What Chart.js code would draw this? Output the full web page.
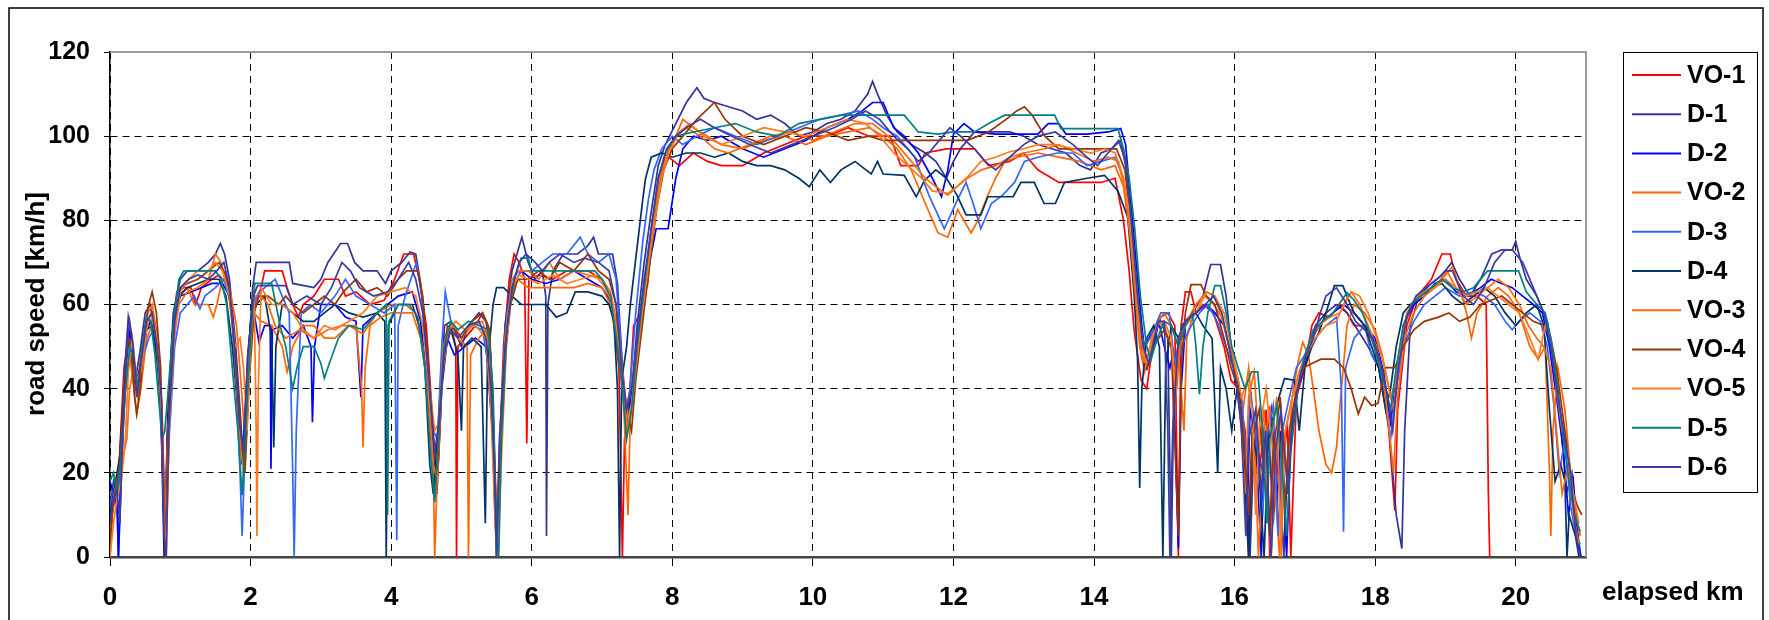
<!DOCTYPE html>
<html>
<head>
<meta charset="utf-8">
<script src="https://cdn.jsdelivr.net/npm/chart.js@4.4.1/dist/chart.umd.min.js"></script>
<style>
  html, body { margin: 0; padding: 0; background: #fff; }
  #wrap { width: 1769px; height: 620px; }
</style>
</head>
<body>
<div id="wrap"><canvas id="speedChart" width="1769" height="620"></canvas></div>
<script>
// tick labels
const xTicks = [0, 2, 4, 6, 8, 10, 12, 14, 16, 18, 20];
const yTicks = [0, 20, 40, 60, 80, 100, 120];

const seriesNames = ["VO-1", "D-1", "D-2", "VO-2", "D-3", "D-4", "VO-3", "VO-4", "VO-5", "D-5", "D-6"];
const seriesColors = ["#FF0000", "#333399", "#0000FF", "#FF6600", "#3366FF", "#003366",
                      "#FF6A10", "#993300", "#FF7A1C", "#008080", "#3C3CA2"];

// [elapsed km, road speed km/h]
const vo1 = [[0,0],[0.03,10],[0.08,15],[0.13,22],[0.2,45],[0.26,52],[0.3,50],[0.36,40],[0.42,45],[0.5,55],[0.56,56],[0.62,55],[0.7,45],[0.75,20],[0.78,2],[0.82,30],[0.88,52],[0.95,63],[1.05,64],[1.15,64],[1.22,60],[1.3,64],[1.45,66],[1.55,67],[1.65,65],[1.72,60],[1.8,45],[1.86,30],[1.92,22],[1.98,45],[2.05,60],[2.15,64],[2.2,68],[2.45,68],[2.52,64],[2.6,60],[2.68,57],[2.75,60],[2.9,62],[3.05,66],[3.25,66],[3.35,62],[3.5,63],[3.7,60],[3.9,61],[4.05,66],[4.18,72],[4.32,72],[4.4,66],[4.5,55],[4.58,35],[4.64,16],[4.68,25],[4.75,52],[4.85,55],[4.92,50],[4.93,0],[4.95,50],[5.05,52],[5.2,55],[5.3,58],[5.38,55],[5.45,35],[5.5,5],[5.53,20],[5.6,50],[5.68,66],[5.75,72],[5.82,70],[5.9,66],[5.93,27],[5.96,66],[6.1,67],[6.3,66],[6.5,68],[6.8,68],[7.0,66],[7.1,62],[7.17,55],[7.24,45],[7.29,0],[7.32,28],[7.38,35],[7.45,55],[7.55,58],[7.65,65],[7.75,82],[7.85,92],[7.95,95],[8.1,93],[8.3,96],[8.5,94],[8.7,93],[9.0,93],[9.3,96],[9.6,98],[9.9,100],[10.2,100],[10.5,102],[10.8,100],[11.1,100],[11.25,93],[11.5,93],[11.6,96],[11.9,97],[12.3,97],[12.5,93],[12.8,94],[13.0,96],[13.2,92],[13.5,89],[13.8,89],[14.1,89],[14.3,90],[14.42,80],[14.5,68],[14.57,54],[14.67,42],[14.75,40],[14.85,52],[14.95,57],[15.05,58],[15.15,55],[15.2,0],[15.24,55],[15.3,63],[15.38,63],[15.45,58],[15.55,60],[15.7,58],[15.85,50],[15.95,42],[16.05,40],[16.15,30],[16.2,0],[16.25,25],[16.35,20],[16.45,35],[16.5,0],[16.55,30],[16.65,15],[16.75,32],[16.8,0],[16.88,38],[17.0,45],[17.1,55],[17.2,58],[17.35,57],[17.5,60],[17.6,58],[17.7,55],[17.85,55],[18.0,50],[18.15,40],[18.28,11],[18.32,35],[18.45,55],[18.6,62],[18.8,66],[18.95,72],[19.07,72],[19.15,66],[19.3,62],[19.45,62],[19.58,60],[19.61,16],[19.63,0]];

const d1 = [[0,12],[0.05,18],[0.1,15],[0.12,0],[0.15,20],[0.2,42],[0.26,57],[0.3,53],[0.36,42],[0.42,48],[0.5,58],[0.57,60],[0.65,52],[0.72,40],[0.76,15],[0.79,0],[0.83,35],[0.9,58],[1.0,66],[1.1,68],[1.25,68],[1.4,70],[1.5,72],[1.57,74.5],[1.63,72],[1.7,66],[1.78,52],[1.85,35],[1.9,22],[1.96,45],[2.03,64],[2.08,70],[2.55,70],[2.6,65],[2.9,64],[3.0,66],[3.1,70],[3.28,74.5],[3.38,74.5],[3.48,70],[3.6,68],[3.8,68],[3.92,65],[4.0,68],[4.15,70],[4.27,72.5],[4.35,72],[4.42,65],[4.5,50],[4.58,30],[4.63,20],[4.7,40],[4.76,55],[4.85,56],[5.0,50],[5.1,55],[5.25,58],[5.35,56],[5.42,48],[5.48,10],[5.52,0],[5.56,30],[5.62,55],[5.72,68],[5.86,76],[5.95,70],[6.05,66],[6.15,68],[6.2,62],[6.21,5],[6.23,60],[6.3,68],[6.45,72],[6.65,72],[6.8,74],[6.88,76],[6.95,72],[7.15,72],[7.22,65],[7.28,48],[7.35,33],[7.42,38],[7.5,55],[7.6,70],[7.7,82],[7.8,93],[7.9,98],[8.05,103],[8.2,108],[8.35,111.5],[8.45,109],[8.6,108],[8.8,107],[9.0,106],[9.2,104],[9.4,105],[9.6,103],[9.8,100],[10.0,101],[10.2,103],[10.4,104],[10.6,106],[10.78,110],[10.85,113],[10.92,110],[11.05,105],[11.2,101],[11.4,98],[11.6,96],[11.75,94],[11.9,90],[12.0,94],[12.1,97],[12.3,101],[12.5,101],[12.8,101],[13.0,100],[13.2,98],[13.4,97],[13.6,96],[13.8,93],[13.95,92],[14.1,96],[14.25,97],[14.38,99],[14.46,92],[14.55,75],[14.62,60],[14.7,50],[14.78,52],[14.88,55],[14.95,56],[15.05,52],[15.1,0],[15.14,45],[15.25,55],[15.4,58],[15.55,62],[15.66,69.5],[15.8,69.5],[15.88,62],[15.96,48],[16.05,38],[16.15,25],[16.22,0],[16.28,30],[16.4,20],[16.48,32],[16.55,8],[16.62,28],[16.7,0],[16.76,25],[16.85,35],[16.95,45],[17.05,48],[17.15,55],[17.3,58],[17.45,60],[17.6,58],[17.75,54],[17.9,50],[18.05,45],[18.2,30],[18.3,10],[18.38,2],[18.42,30],[18.5,55],[18.62,62],[18.8,65],[18.95,67],[19.09,70],[19.2,66],[19.35,62],[19.5,66],[19.66,72],[19.8,73],[19.95,73],[20.0,75],[20.06,71],[20.15,66],[20.3,62],[20.45,56],[20.55,45],[20.65,30],[20.72,15],[20.8,20],[20.87,8],[20.92,0]];

const d2 = [[0,18],[0.05,15],[0.1,12],[0.12,0],[0.16,18],[0.22,44],[0.28,54],[0.33,48],[0.4,40],[0.46,48],[0.52,54],[0.58,56],[0.66,50],[0.72,38],[0.77,0],[0.82,32],[0.9,56],[1.0,62],[1.15,63],[1.3,64],[1.45,65],[1.6,65],[1.7,62],[1.78,50],[1.85,30],[1.9,25],[1.96,48],[2.03,60],[2.08,55],[2.12,51],[2.2,55],[2.28,55],[2.29,21],[2.31,54],[2.45,55],[2.6,52],[2.75,55],[2.86,50],[2.88,32],[2.91,50],[3.0,60],[3.2,60],[3.35,57],[3.5,56],[3.57,38],[3.6,55],[3.8,58],[3.95,60],[4.1,62],[4.3,63],[4.42,56],[4.52,40],[4.6,22],[4.65,15],[4.72,40],[4.8,52],[4.9,48],[5.05,50],[5.2,52],[5.35,50],[5.44,30],[5.5,0],[5.55,25],[5.62,52],[5.72,64],[5.85,68],[6.0,66],[6.2,65],[6.4,66],[6.6,68],[6.8,66],[7.0,64],[7.15,60],[7.25,50],[7.32,38],[7.4,36],[7.5,48],[7.6,62],[7.7,72],[7.77,78],[7.94,78],[8.05,90],[8.15,97],[8.3,100],[8.5,99],[8.7,100],[9.0,97],[9.3,95],[9.6,97],[9.9,99],[10.2,102],[10.5,104],[10.7,106],[10.85,108],[11.0,108],[11.15,102],[11.3,100],[11.5,96],[11.7,90],[11.83,85.6],[11.92,92],[12.0,100.5],[12.15,103],[12.3,101],[12.6,100.5],[12.9,100.5],[13.2,100.5],[13.35,103],[13.5,103],[13.6,100.5],[13.9,100.5],[14.2,101],[14.38,101.8],[14.45,98],[14.52,85],[14.6,70],[14.68,55],[14.75,45],[14.85,50],[14.92,56],[15.0,50],[15.08,45],[15.12,48],[15.2,2],[15.24,40],[15.3,55],[15.45,58],[15.6,60],[15.72,58],[15.85,55],[15.95,48],[16.05,42],[16.12,30],[16.18,10],[16.22,35],[16.3,28],[16.38,0],[16.42,25],[16.52,35],[16.6,12],[16.66,30],[16.74,0],[16.8,28],[16.9,40],[17.0,46],[17.1,52],[17.25,56],[17.4,58],[17.55,60],[17.7,58],[17.85,55],[18.0,52],[18.12,44],[18.22,32],[18.3,42],[18.4,55],[18.55,60],[18.7,62],[18.85,65],[19.0,66],[19.15,63],[19.3,62],[19.5,64],[19.65,66],[19.8,65],[19.95,64],[20.1,62],[20.25,60],[20.38,58],[20.48,50],[20.58,38],[20.68,25],[20.75,10],[20.82,18],[20.88,5],[20.93,0]];

const vo2 = [[0,2],[0.04,12],[0.1,18],[0.16,25],[0.22,40],[0.28,48],[0.34,40],[0.38,34],[0.44,40],[0.52,52],[0.6,55],[0.68,50],[0.74,35],[0.79,5],[0.83,30],[0.9,52],[0.98,62],[1.1,64],[1.2,60],[1.3,60],[1.4,60],[1.47,57],[1.52,60],[1.6,66],[1.7,64],[1.8,55],[1.87,40],[1.93,25],[1.99,48],[2.05,58],[2.15,56],[2.3,55],[2.45,50],[2.52,44],[2.6,50],[2.75,55],[2.9,55],[3.05,52],[3.2,52],[3.4,55],[3.6,53],[3.8,58],[4.0,60],[4.2,60],[4.35,58],[4.45,50],[4.55,35],[4.6,20],[4.62,0],[4.66,22],[4.74,48],[4.85,54],[4.95,52],[5.08,50],[5.1,0],[5.13,48],[5.25,52],[5.35,54],[5.42,45],[5.48,20],[5.52,0],[5.56,28],[5.62,50],[5.7,62],[5.8,66],[5.95,64],[6.1,64],[6.3,64],[6.6,64],[6.8,65],[7.0,64],[7.12,60],[7.22,52],[7.3,40],[7.37,10],[7.4,32],[7.48,45],[7.58,58],[7.68,72],[7.78,85],[7.88,93],[8.0,98],[8.15,104],[8.3,102],[8.5,100],[8.7,98],[9.0,97],[9.3,99],[9.6,100],[9.9,98],[10.2,100],[10.5,101],[10.8,102],[11.0,100],[11.2,97],[11.4,92],[11.6,84],[11.78,77],[11.92,76],[12.06,82.5],[12.15,80],[12.25,77],[12.35,80],[12.49,86],[12.6,90],[12.73,94],[12.9,95],[13.2,96],[13.5,95],[13.8,94],[14.1,92],[14.3,93],[14.42,88],[14.5,78],[14.58,62],[14.65,50],[14.72,44],[14.8,50],[14.9,56],[15.0,58],[15.1,55],[15.2,50],[15.28,30],[15.32,52],[15.45,60],[15.6,63],[15.72,62],[15.85,55],[15.95,48],[16.05,42],[16.12,35],[16.2,45],[16.28,30],[16.34,0],[16.4,22],[16.5,36],[16.58,15],[16.64,0],[16.7,28],[16.8,36],[16.9,46],[16.97,51],[17.05,48],[17.12,40],[17.2,30],[17.3,22],[17.38,20],[17.45,26],[17.52,40],[17.6,55],[17.7,60],[17.85,58],[18.0,54],[18.1,48],[18.2,40],[18.26,35],[18.34,48],[18.45,58],[18.6,62],[18.8,64],[18.95,66],[19.1,69],[19.2,64],[19.3,58],[19.37,52],[19.45,58],[19.6,62],[19.75,64],[19.9,62],[20.05,58],[20.2,50],[20.32,47],[20.42,50],[20.48,20],[20.5,5],[20.53,30],[20.6,45],[20.7,35],[20.78,20],[20.85,10],[20.92,5]];

const d3 = [[0,12],[0.05,16],[0.1,14],[0.15,20],[0.22,40],[0.28,48],[0.34,45],[0.4,38],[0.48,48],[0.55,52],[0.62,54],[0.7,48],[0.76,20],[0.79,2],[0.84,28],[0.92,50],[1.0,58],[1.1,60],[1.2,62],[1.28,59],[1.35,62],[1.5,64],[1.62,66],[1.72,60],[1.8,40],[1.85,20],[1.88,5],[1.92,25],[2.0,50],[2.08,62],[2.2,64],[2.35,66],[2.45,62],[2.55,58],[2.6,20],[2.62,0],[2.65,30],[2.72,58],[2.85,60],[3.0,58],[3.2,62],[3.35,66],[3.5,62],[3.7,60],[3.9,58],[4.05,60],[4.08,4],[4.1,55],[4.2,62],[4.36,70],[4.44,62],[4.52,45],[4.6,30],[4.66,28],[4.72,50],[4.77,63],[4.85,56],[5.0,52],[5.15,55],[5.3,54],[5.42,42],[5.48,15],[5.52,5],[5.57,35],[5.65,58],[5.75,65],[5.85,68],[6.0,68],[6.15,70],[6.3,72],[6.5,72],[6.69,76],[6.8,72],[6.95,70],[7.1,72],[7.2,66],[7.27,50],[7.33,34],[7.4,40],[7.48,58],[7.58,75],[7.66,85],[7.74,92],[7.85,97],[8.0,100],[8.15,98],[8.35,100],[8.6,102],[8.9,100],[9.2,98],[9.5,100],[9.8,102],[10.1,104],[10.4,105],[10.65,106],[10.85,104],[11.0,102],[11.2,100],[11.45,95],[11.65,86],[11.87,78],[12.06,85],[12.18,89],[12.28,84],[12.39,78],[12.54,84],[12.7,86],[12.87,89],[13.01,94],[13.2,95],[13.48,96],[13.7,96],[13.9,93],[14.1,94],[14.3,95],[14.42,90],[14.5,80],[14.58,65],[14.65,55],[14.72,50],[14.8,52],[14.9,56],[14.95,58],[15.07,58],[15.12,50],[15.18,45],[15.25,50],[15.35,54],[15.5,58],[15.62,60],[15.75,56],[15.88,50],[16.0,44],[16.1,38],[16.18,20],[16.22,40],[16.3,30],[16.4,10],[16.45,28],[16.55,36],[16.62,5],[16.68,30],[16.78,38],[16.88,45],[17.0,48],[17.15,52],[17.3,55],[17.45,57],[17.52,40],[17.55,6],[17.58,45],[17.7,52],[17.85,55],[17.95,48],[18.05,45],[18.15,38],[18.22,28],[18.3,40],[18.4,50],[18.55,56],[18.7,60],[18.85,62],[19.0,64],[19.2,62],[19.4,63],[19.55,62],[19.7,60],[19.85,56],[19.95,54],[20.05,56],[20.2,58],[20.35,56],[20.45,50],[20.55,35],[20.62,20],[20.7,28],[20.78,12],[20.86,5],[20.92,3]];

const d4 = [[0,10],[0.04,14],[0.08,18],[0.14,24],[0.2,42],[0.26,52],[0.32,48],[0.38,40],[0.44,46],[0.52,54],[0.6,55],[0.68,45],[0.74,30],[0.78,0],[0.82,30],[0.9,54],[0.98,62],[1.1,64],[1.25,65],[1.4,66],[1.55,66],[1.65,62],[1.74,50],[1.82,35],[1.88,22],[1.94,40],[2.0,56],[2.08,60],[2.2,62],[2.3,52],[2.33,26],[2.36,50],[2.45,60],[2.6,58],[2.75,56],[2.9,56],[3.05,58],[3.2,60],[3.4,58],[3.6,57],[3.8,58],[3.91,56],[3.93,0],[3.96,55],[4.1,60],[4.3,60],[4.4,55],[4.48,45],[4.55,22],[4.6,15],[4.67,30],[4.75,50],[4.85,54],[4.95,48],[5.0,30],[5.03,50],[5.15,52],[5.28,50],[5.34,8],[5.37,45],[5.45,60],[5.5,64],[5.6,64],[5.72,62],[5.85,60],[6.0,60],[6.2,60],[6.35,57],[6.5,58],[6.62,63],[6.8,63],[7.0,62],[7.1,60],[7.17,56],[7.22,40],[7.25,0],[7.28,42],[7.35,50],[7.4,59.5],[7.5,73.7],[7.58,85],[7.62,90],[7.7,95],[7.85,96],[8.0,95],[8.2,96],[8.4,96],[8.6,95],[8.8,96],[9.0,94],[9.2,93],[9.4,93],[9.6,92],[9.8,90],[9.95,88],[10.1,92],[10.25,89],[10.4,92],[10.6,94],[10.83,91],[10.92,94],[11.0,91],[11.3,90.7],[11.47,85.6],[11.59,89.5],[11.75,92],[11.9,90],[12.05,86],[12.18,81.3],[12.39,81.3],[12.49,85.6],[12.85,85.6],[12.96,89],[13.15,89],[13.29,84],[13.45,84],[13.58,89],[13.9,90],[14.15,90.7],[14.34,87],[14.48,80.8],[14.57,62.6],[14.62,46.8],[14.65,16.4],[14.68,40],[14.75,52],[14.85,55],[14.93,50],[14.98,0],[15.02,45],[15.1,55],[15.2,52],[15.3,56],[15.45,58],[15.55,55],[15.68,52],[15.76,20],[15.8,45],[15.88,40],[15.96,30],[16.05,42],[16.12,25],[16.2,0],[16.25,30],[16.35,20],[16.42,0],[16.48,28],[16.58,35],[16.71,42.4],[16.85,42],[16.92,30],[17.0,45],[17.1,50],[17.19,53],[17.3,58],[17.42,64.5],[17.54,64.5],[17.6,62],[17.7,58],[17.85,55],[17.95,50],[18.05,45],[18.15,35],[18.22,40],[18.3,50],[18.4,58],[18.5,60],[18.65,62],[18.8,64],[18.95,65],[19.1,62],[19.25,60],[19.4,62],[19.55,64],[19.7,62],[19.85,58],[20.0,55],[20.15,58],[20.3,60],[20.4,55],[20.48,35],[20.56,18],[20.64,22],[20.7,18],[20.73,0],[20.76,10],[20.85,5],[20.9,0]];

const vo3 = [[0,5],[0.05,14],[0.1,18],[0.16,22],[0.24,28],[0.28,40],[0.34,45],[0.4,38],[0.46,45],[0.54,58],[0.6,60],[0.68,52],[0.74,35],[0.78,8],[0.82,28],[0.9,50],[0.98,60],[1.1,63],[1.25,64],[1.4,66],[1.5,72],[1.58,70],[1.68,64],[1.76,52],[1.84,30],[1.9,20],[1.96,45],[2.05,62],[2.15,62],[2.25,60],[2.35,55],[2.5,52],[2.7,54],[2.9,52],[3.1,54],[3.3,55],[3.5,55],[3.58,40],[3.6,26],[3.63,45],[3.7,55],[3.85,57],[4.0,58],[4.15,58],[4.3,58],[4.42,52],[4.52,40],[4.6,22],[4.66,18],[4.72,42],[4.8,52],[4.9,55],[5.0,52],[5.15,55],[5.3,56],[5.4,50],[5.46,20],[5.5,0],[5.54,25],[5.62,52],[5.72,66],[5.82,68],[5.95,68],[6.1,66],[6.25,70],[6.4,66],[6.6,68],[6.8,67],[7.0,66],[7.12,63],[7.22,55],[7.3,42],[7.36,30],[7.42,36],[7.5,50],[7.6,63],[7.7,76],[7.8,88],[7.9,95],[8.05,100],[8.2,102],[8.4,100],[8.6,97],[8.8,96],[9.1,98],[9.4,100],[9.7,101],[10.0,99],[10.3,101],[10.6,103],[10.85,103],[11.0,101],[11.2,98],[11.4,94],[11.6,90],[11.75,88],[11.92,86],[12.05,88],[12.2,90],[12.4,92],[12.6,93],[12.8,95],[13.0,96],[13.3,97],[13.5,98],[13.75,96],[14.0,94],[14.2,95],[14.35,94],[14.45,86],[14.52,75],[14.6,60],[14.68,48],[14.76,45],[14.85,52],[14.92,56],[15.0,55],[15.1,50],[15.18,40],[15.22,50],[15.32,56],[15.45,60],[15.58,62],[15.7,60],[15.82,57],[15.92,50],[16.0,45],[16.08,35],[16.15,15],[16.2,38],[16.28,44],[16.35,25],[16.42,35],[16.48,10],[16.52,0],[16.58,22],[16.66,34],[16.75,20],[16.82,38],[16.92,44],[17.05,50],[17.2,55],[17.35,57],[17.5,58],[17.66,63],[17.78,60],[17.9,55],[18.02,50],[18.12,42],[18.2,30],[18.26,20],[18.32,38],[18.42,52],[18.55,58],[18.7,62],[18.85,64],[19.02,68],[19.15,64],[19.3,60],[19.45,62],[19.6,64],[19.75,66],[19.9,64],[20.05,60],[20.18,55],[20.3,52],[20.4,50],[20.5,45],[20.58,30],[20.66,15],[20.75,22],[20.82,10],[20.9,3]];

const vo4 = [[0,3],[0.04,12],[0.08,16],[0.14,22],[0.2,42],[0.26,52],[0.3,50],[0.35,38],[0.38,34],[0.43,40],[0.5,55],[0.55,60],[0.6,63],[0.66,58],[0.72,45],[0.76,20],[0.79,0],[0.82,28],[0.9,54],[1.0,64],[1.1,65],[1.25,66],[1.4,68],[1.55,70],[1.65,67],[1.73,58],[1.8,45],[1.86,30],[1.92,20],[1.98,42],[2.05,58],[2.12,62],[2.25,62],[2.4,60],[2.5,62],[2.6,60],[2.75,58],[2.9,60],[3.05,62],[3.2,60],[3.32,63],[3.5,66],[3.65,63],[3.8,64],[3.95,62],[4.1,66],[4.22,68],[4.38,68],[4.45,62],[4.52,48],[4.6,28],[4.66,22],[4.72,42],[4.8,55],[4.9,54],[5.0,52],[5.15,56],[5.3,58],[5.4,54],[5.46,30],[5.51,0],[5.55,22],[5.62,48],[5.7,60],[5.8,66],[5.95,66],[6.1,68],[6.25,66],[6.4,70],[6.6,68],[6.8,72],[6.95,68],[7.1,66],[7.2,60],[7.28,45],[7.35,35],[7.42,30],[7.48,42],[7.58,56],[7.68,70],[7.78,83],[7.88,92],[8.0,97],[8.15,100],[8.35,104],[8.6,108],[8.75,104],[9.0,100],[9.3,98],[9.6,100],[9.9,102],[10.2,101],[10.5,99],[10.8,100],[11.0,99],[11.3,99],[11.6,99],[11.9,99],[12.2,99],[12.5,101],[12.75,104],[12.9,106],[13.01,107],[13.12,105],[13.3,100],[13.5,97],[13.8,97],[14.1,97],[14.32,97],[14.44,92],[14.52,80],[14.6,65],[14.68,50],[14.76,45],[14.85,50],[14.92,52],[15.0,54],[15.1,50],[15.2,5],[15.24,45],[15.3,58],[15.38,64.7],[15.52,64.7],[15.6,62],[15.72,60],[15.85,52],[15.95,45],[16.05,40],[16.12,30],[16.2,10],[16.25,28],[16.35,35],[16.42,20],[16.5,5],[16.55,25],[16.65,38],[16.72,12],[16.78,30],[16.88,40],[16.98,45],[17.1,46],[17.23,47],[17.42,47],[17.55,45],[17.66,40],[17.76,34],[17.85,38],[17.95,36],[18.04,36.5],[18.14,45],[18.28,45],[18.4,50],[18.55,54],[18.7,56],[18.9,57],[19.05,58],[19.2,56],[19.35,57],[19.5,60],[19.65,61],[19.8,62],[19.95,60],[20.1,58],[20.25,56],[20.4,55],[20.5,52],[20.58,45],[20.66,35],[20.74,25],[20.82,15],[20.88,12],[20.94,10]];

const vo5 = [[0,0],[0.05,8],[0.1,14],[0.16,18],[0.22,28],[0.26,44],[0.32,52],[0.38,42],[0.44,44],[0.52,54],[0.58,58],[0.66,52],[0.72,38],[0.77,10],[0.8,0],[0.84,30],[0.92,54],[1.0,63],[1.12,66],[1.25,68],[1.4,68],[1.5,70],[1.6,68],[1.7,62],[1.78,50],[1.85,52],[1.9,45],[1.95,30],[2.0,50],[2.05,64],[2.08,30],[2.09,5],[2.11,40],[2.15,64],[2.3,60],[2.45,60],[2.6,58],[2.75,54],[2.9,52],[3.05,55],[3.2,54],[3.4,56],[3.6,58],[3.8,62],[4.0,63],[4.2,64],[4.35,62],[4.45,55],[4.55,40],[4.62,30],[4.68,32],[4.74,50],[4.82,54],[4.92,56],[5.05,54],[5.2,55],[5.35,52],[5.42,35],[5.48,8],[5.52,0],[5.56,20],[5.64,50],[5.72,64],[5.82,67],[5.95,66],[6.1,65],[6.3,67],[6.5,65],[6.7,66],[6.9,67],[7.05,64],[7.15,60],[7.25,50],[7.32,40],[7.38,32],[7.45,40],[7.55,55],[7.65,68],[7.75,80],[7.85,90],[7.95,96],[8.1,101],[8.25,103],[8.45,100],[8.7,98],[9.0,100],[9.3,102],[9.6,101],[9.9,100],[10.2,102],[10.5,104],[10.75,103],[10.95,100],[11.15,96],[11.35,93],[11.55,90],[11.7,87],[11.92,86.4],[12.05,88],[12.2,90.3],[12.39,94],[12.6,95],[12.8,96.3],[13.0,97],[13.2,98],[13.45,98],[13.7,97],[13.95,96],[14.15,97],[14.3,96],[14.42,90],[14.5,82],[14.58,68],[14.66,52],[14.74,46],[14.82,52],[14.9,55],[15.0,56],[15.1,52],[15.15,40],[15.2,52],[15.3,55],[15.45,58],[15.6,63],[15.72,62],[15.85,58],[15.95,50],[16.03,44],[16.1,38],[16.18,42],[16.25,35],[16.3,10],[16.35,30],[16.45,40],[16.52,28],[16.6,38],[16.66,0],[16.72,30],[16.82,38],[16.92,42],[17.02,48],[17.15,52],[17.3,55],[17.45,56],[17.55,60],[17.66,63],[17.78,62],[17.9,58],[18.02,52],[18.12,46],[18.22,38],[18.3,42],[18.4,54],[18.52,60],[18.7,63],[18.85,64],[19.0,66],[19.15,64],[19.3,62],[19.45,63],[19.6,64],[19.75,62],[19.9,60],[20.05,58],[20.2,52],[20.32,47],[20.42,55],[20.5,52],[20.58,40],[20.66,30],[20.74,25],[20.82,15],[20.9,8]];

const d5 = [[0,18],[0.05,20],[0.1,15],[0.15,22],[0.22,40],[0.28,50],[0.34,47],[0.4,40],[0.46,50],[0.52,57],[0.58,56],[0.64,48],[0.7,36],[0.74,28],[0.78,30],[0.82,38],[0.9,55],[0.98,66],[1.05,68],[1.4,68],[1.5,68],[1.58,66],[1.66,60],[1.74,45],[1.82,30],[1.88,14.7],[1.93,30],[2.0,52],[2.06,65],[2.3,65],[2.42,55],[2.5,50],[2.6,40],[2.66,45],[2.75,50],[2.9,50],[3.0,46],[3.05,42.5],[3.12,46],[3.25,52],[3.4,55],[3.6,54],[3.8,58],[3.93,60],[3.95,10],[3.97,56],[4.1,60],[4.25,60],[4.38,57],[4.48,45],[4.56,25],[4.62,13],[4.68,30],[4.75,50],[4.85,56],[4.95,54],[5.1,56],[5.25,55],[5.38,54],[5.45,40],[5.5,5],[5.53,0],[5.57,28],[5.65,55],[5.75,66],[5.85,71],[5.95,71],[6.0,68],[6.9,68],[7.0,66],[7.12,62],[7.22,50],[7.3,38],[7.35,28],[7.42,35],[7.5,50],[7.6,64],[7.7,78],[7.8,90],[7.9,96],[8.05,100],[8.3,101],[8.6,102],[8.9,103],[9.2,101],[9.5,100],[9.8,103],[10.1,104],[10.4,105],[10.6,105],[10.83,105],[11.3,105],[11.4,103],[11.5,101],[11.78,100.5],[12.0,101],[12.3,101],[12.5,103],[12.73,105],[13.44,105],[13.53,101.8],[14.34,101.8],[14.42,97],[14.5,90],[14.58,78],[14.66,62],[14.75,50],[14.81,46.8],[14.9,52],[15.0,56],[15.1,55],[15.2,50],[15.3,55],[15.4,58],[15.45,50],[15.5,38.7],[15.55,50],[15.62,58],[15.72,64.5],[15.8,64.5],[15.88,58],[15.96,50],[16.05,45],[16.15,40],[16.24,44],[16.33,44],[16.4,30],[16.46,8],[16.5,28],[16.6,36],[16.68,20],[16.74,5],[16.8,25],[16.9,40],[17.0,48],[17.12,54],[17.25,56],[17.4,58],[17.6,62.8],[17.7,61],[17.82,58],[17.95,52],[18.05,46],[18.15,40],[18.22,35],[18.3,45],[18.4,55],[18.52,60],[18.65,62],[18.8,64],[18.95,66],[19.1,64],[19.25,63],[19.4,64],[19.6,68],[19.8,68],[20.04,68],[20.15,63],[20.3,60],[20.42,58],[20.5,52],[20.6,40],[20.68,28],[20.76,18],[20.84,10],[20.92,6]];

const d6 = [[0,8],[0.05,14],[0.1,16],[0.14,8],[0.18,30],[0.24,50],[0.28,56],[0.33,50],[0.38,38],[0.44,46],[0.52,56],[0.6,58],[0.67,50],[0.73,38],[0.77,5],[0.8,0],[0.84,32],[0.92,56],[1.0,64],[1.12,66],[1.25,67],[1.4,66],[1.52,68],[1.62,70],[1.7,64],[1.78,48],[1.84,32],[1.9,25],[1.96,48],[2.04,62],[2.1,64.5],[2.5,64.5],[2.6,60],[2.8,62],[3.0,60],[3.15,64],[3.3,70],[3.42,68],[3.55,64],[3.75,62],[3.95,63],[4.1,66],[4.25,70],[4.35,66],[4.45,58],[4.55,40],[4.62,25],[4.68,32],[4.75,48],[4.85,54],[4.95,52],[5.1,55],[5.25,56],[5.35,52],[5.42,40],[5.47,20],[5.5,0],[5.54,28],[5.62,50],[5.72,64],[5.82,70],[5.92,72],[6.05,70],[6.15,68],[6.25,70],[6.4,72],[6.6,70],[6.75,71],[6.95,70],[7.1,68],[7.2,60],[7.28,45],[7.35,35],[7.42,40],[7.5,52],[7.6,66],[7.7,78],[7.8,90],[7.92,97],[8.05,100],[8.2,102],[8.4,104],[8.6,102],[8.85,100],[9.1,98],[9.4,96],[9.7,98],[10.0,100],[10.3,102],[10.55,104],[10.75,106],[10.95,104],[11.15,100],[11.35,97],[11.5,94],[11.65,96],[11.85,100],[11.95,102],[12.1,100],[12.3,97],[12.45,94],[12.6,92],[12.8,95],[13.0,98],[13.2,100],[13.45,101],[13.7,98],[13.9,95],[14.05,93],[14.2,96],[14.35,99],[14.45,94],[14.53,80],[14.62,62],[14.7,50],[14.78,46],[14.86,52],[14.92,56],[15.0,56],[15.05,30],[15.08,0],[15.12,30],[15.2,52],[15.3,56],[15.45,58],[15.58,60],[15.7,62],[15.82,58],[15.92,50],[16.02,42],[16.1,30],[16.16,5],[16.2,28],[16.3,35],[16.38,15],[16.44,30],[16.52,0],[16.58,25],[16.66,35],[16.76,15],[16.82,32],[16.92,42],[17.02,48],[17.12,52],[17.22,58],[17.3,62],[17.45,64],[17.6,60],[17.72,56],[17.85,54],[17.97,52],[18.08,46],[18.18,38],[18.25,30],[18.33,45],[18.45,57],[18.58,62],[18.72,64],[18.88,66],[19.0,68],[19.1,68],[19.25,62],[19.4,60],[19.55,64],[19.7,70],[19.85,73],[19.95,73],[20.1,70],[20.25,64],[20.4,58],[20.5,50],[20.6,38],[20.7,28],[20.78,20],[20.86,5],[20.92,0]];

const seriesData = [vo1, d1, d2, vo2, d3, d4, vo3, vo4, vo5, d5, d6];

document.addEventListener("DOMContentLoaded", function () {
    const FONT = '"Liberation Sans", Arial, sans-serif';
    Chart.defaults.font.family = FONT;

    const datasets = seriesData.map((pts, i) => ({
        label: seriesNames[i],
        data: pts.map(p => ({ x: p[0], y: p[1] })),
        borderColor: seriesColors[i],
        backgroundColor: seriesColors[i],
        borderWidth: 1.7,
        pointRadius: 0,
        tension: 0,
        fill: false,
        order: seriesData.length - i
    }));

    // frame, legend box and axis titles (Excel style)
    const decorations = {
        id: "decorations",
        afterDraw(chart) {
            const ctx = chart.ctx;
            const area = chart.chartArea;
            ctx.save();
            // outer border
            ctx.strokeStyle = "#000";
            ctx.lineWidth = 1.5;
            ctx.strokeRect(9, 8, 1754, 640);
            // plot frame top / right
            ctx.strokeStyle = "#9a9a9a";
            ctx.lineWidth = 2;
            ctx.beginPath();
            ctx.moveTo(area.left, area.top);
            ctx.lineTo(area.right, area.top);
            ctx.lineTo(area.right, area.bottom);
            ctx.stroke();
            // legend
            ctx.strokeStyle = "#000";
            ctx.lineWidth = 1;
            ctx.strokeRect(1623.5, 52.5, 134, 440);
            ctx.font = "bold 25px " + FONT;
            ctx.textBaseline = "middle";
            ctx.textAlign = "left";
            seriesNames.forEach((name, i) => {
                const y = 75 + i * 39.2;
                ctx.strokeStyle = seriesColors[i];
                ctx.lineWidth = 2;
                ctx.beginPath();
                ctx.moveTo(1632, y);
                ctx.lineTo(1681, y);
                ctx.stroke();
                ctx.fillStyle = "#000";
                ctx.fillText(name, 1687, y + 1);
            });
            // axis titles
            ctx.font = "bold 26px " + FONT;
            ctx.textBaseline = "alphabetic";
            ctx.fillText("elapsed km", 1602, 600);
            ctx.translate(44, 304);
            ctx.rotate(-Math.PI / 2);
            ctx.textAlign = "center";
            ctx.fillText("road speed [km/h]", 0, 0);
            ctx.restore();
        }
    };

    new Chart(document.getElementById("speedChart"), {
        type: "line",
        data: { datasets: datasets },
        options: {
            responsive: false,
            animation: false,
            devicePixelRatio: 1,
            layout: { padding: { left: 0, top: 52, right: 183, bottom: 0 } },
            plugins: { legend: { display: false }, tooltip: { enabled: false } },
            scales: {
                x: {
                    type: "linear",
                    min: 0,
                    max: 21,
                    afterBuildTicks: scale => { scale.ticks = xTicks.map(v => ({ value: v })); },
                    afterFit: scale => { scale.height = 63; },
                    ticks: {
                        color: "#000",
                        font: { size: 26, weight: "bold" },
                        padding: 16,
                        maxRotation: 0,
                        autoSkip: false
                    },
                    grid: {
                        color: "#000",
                        lineWidth: 1,
                        tickLength: 9,
                        tickColor: "#000",
                        tickWidth: 1
                    },
                    border: { color: "#444", width: 2.5, dash: [7, 5] }
                },
                y: {
                    min: 0,
                    max: 120,
                    afterBuildTicks: scale => { scale.ticks = yTicks.map(v => ({ value: v })); },
                    afterFit: scale => { scale.width = 110; },
                    ticks: {
                        color: "#000",
                        font: { size: 25, weight: "bold" },
                        padding: 14
                    },
                    grid: {
                        color: c => (c.tick && c.tick.value === 120) ? "rgba(0,0,0,0)" : "#000",
                        lineWidth: 1,
                        tickLength: 6,
                        tickColor: "#000",
                        tickWidth: 1
                    },
                    border: { color: "#000", width: 1.5, dash: [7, 5] }
                }
            }
        },
        plugins: [decorations]
    });
});
</script>
</body>
</html>
